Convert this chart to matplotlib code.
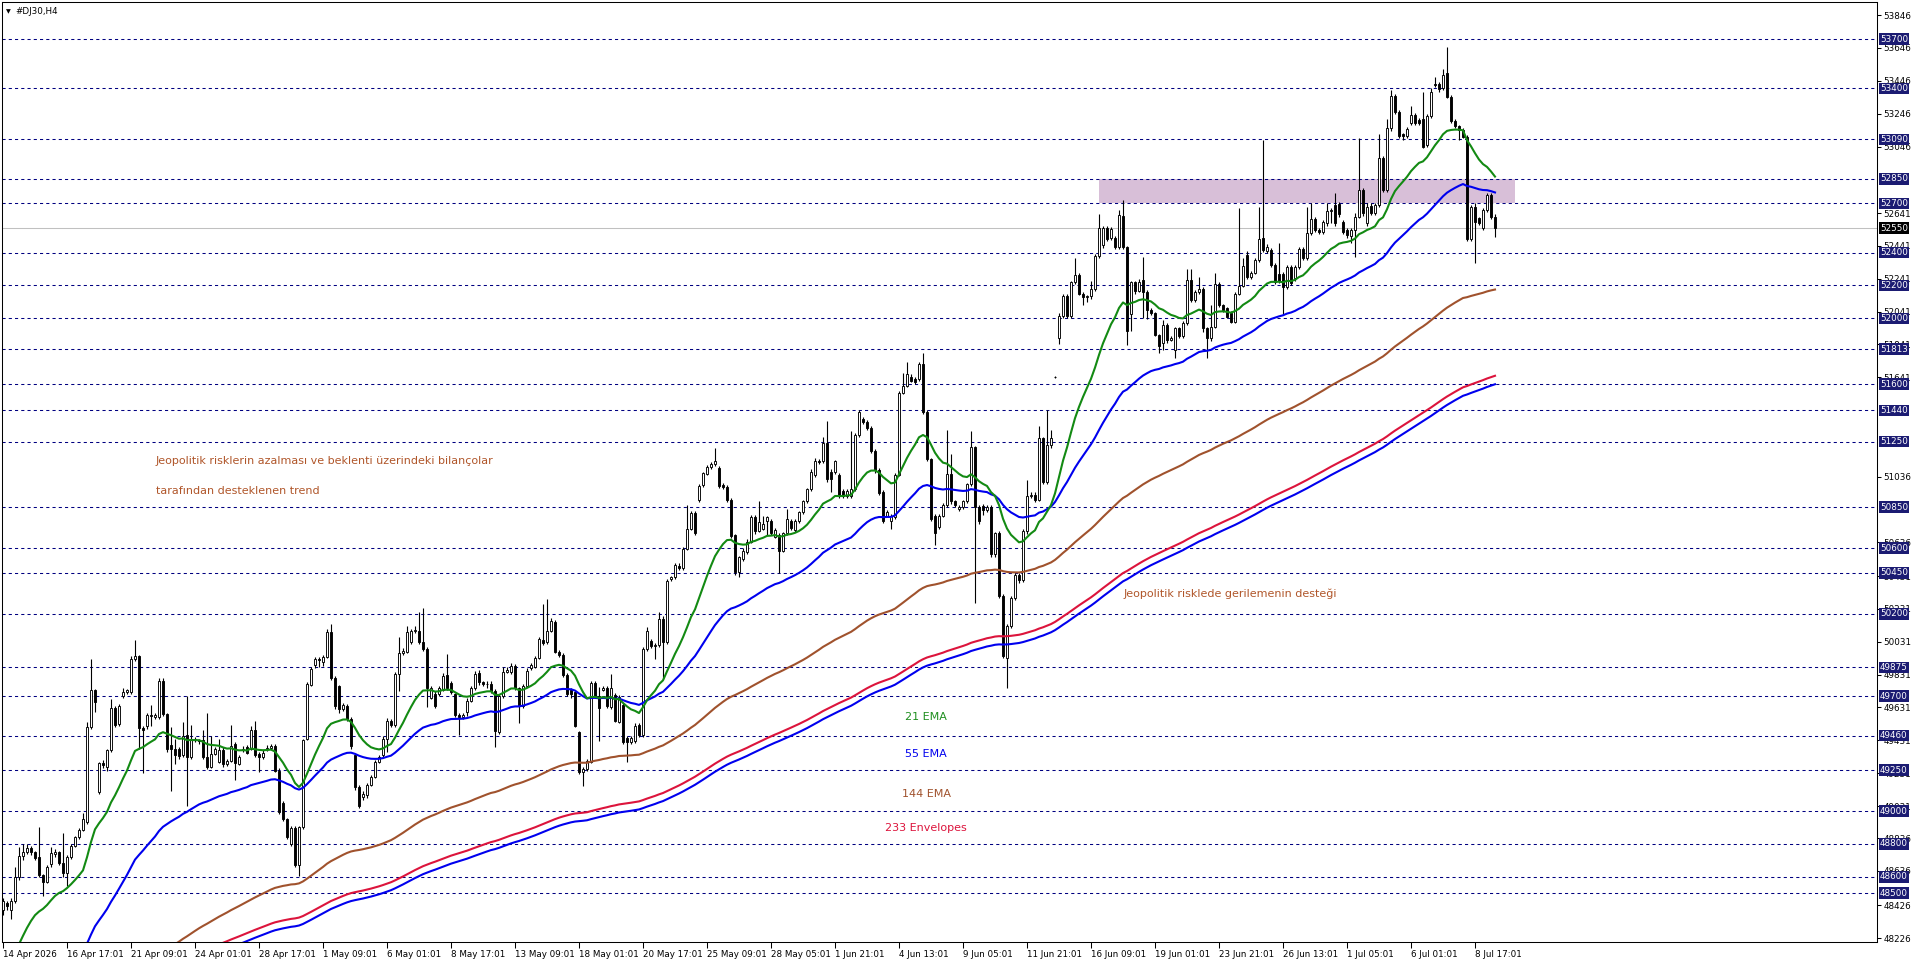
import numpy as np
import matplotlib
matplotlib.use("Agg")
import matplotlib.pyplot as plt
from matplotlib.patches import Rectangle
from matplotlib.transforms import blended_transform_factory

SYMBOL = "#DJ30,H4"

# H4 candles, bar 0 = 14 Apr 2026
OPEN = [
    48400, 48440, 48400, 48450, 48597, 48729, 48750, 48774, 48750, 48723,
    48611, 48571, 48678, 48739, 48750, 48683, 48622, 48719, 48786, 48841,
    48887, 48932, 49511, 49735, 49115, 49294, 49267, 49369, 49627, 49531,
    49700, 49728, 49724, 49927, 49943, 49505, 49521, 49586, 49572, 49572,
    49795, 49592, 49400, 49375, 49375, 49339, 49464, 49328, 49436, 49430,
    49430, 49328, 49267, 49349, 49298, 49373, 49288, 49308, 49410, 49288,
    49373, 49389, 49379, 49495, 49349, 49328, 49375, 49383, 49399, 49247,
    49050, 48953, 48800, 48896, 48672, 48902, 49440, 49769, 49887, 49927,
    49907, 49938, 50090, 49810, 49760, 49623, 49637, 49562, 49339, 49146,
    49085, 49095, 49160, 49207, 49298, 49340, 49440, 49550, 49524, 49835,
    49961, 49967, 50032, 50099, 50099, 50028, 49987, 49686, 49713, 49713,
    49739, 49829, 49778, 49713, 49585, 49575, 49601, 49672, 49747, 49841,
    49784, 49774, 49774, 49733, 49483, 49699, 49849, 49845, 49885, 49747,
    49642, 49764, 49869, 49875, 49930, 50044, 50032, 50099, 50153, 49971,
    49950, 49829, 49739, 49727, 49479, 49236, 49256, 49297, 49778, 49700,
    49739, 49747, 49632, 49707, 49544, 49646, 49443, 49422, 49429, 49524,
    49463, 49987, 50038, 50007, 50011, 50170, 50028, 50413, 50424, 50495,
    50478, 50596, 50718, 50813, 50891, 50986, 51053, 51094, 51114, 51087,
    50986, 50972, 50895, 50681, 50454, 50535, 50576, 50641, 50789, 50708,
    50720, 50767, 50767, 50671, 50682, 50585, 50692, 50767, 50714, 50767,
    50820, 50885, 50959, 51045, 51134, 51130, 51241, 51066, 51062, 51049,
    50949, 50917, 50917, 50959, 51290, 51388, 51367, 51333, 51194, 51077,
    50942, 50799, 50767, 50788, 51049, 51547, 51589, 51643, 51632, 51632,
    51724, 51429, 51141, 50799, 50729, 50799, 50863, 51055, 50885, 50842,
    50853, 50885, 50991, 51216, 50853, 50857, 50831, 50853, 50564, 50692,
    50308, 49934, 50126, 50297, 50436, 50404, 50703, 50917, 50927, 50895,
    51269, 51002, 51226, 51643, 51882, 52017, 52138, 52017, 52220, 52262,
    52151, 52130, 52134, 52177, 52380, 52444, 52551, 52491, 52491, 52433,
    52625, 52433, 52027, 52220, 52169, 52233, 52162, 52051, 52030, 51898,
    51849, 51959, 51868, 51807, 51939, 51892, 51970, 52233, 52112, 52162,
    52176, 51939, 51878, 51949, 52209, 52081, 52061, 52034, 51980, 52148,
    52197, 52385, 52250, 52278, 52355, 52487, 52412, 52416, 52325, 52270,
    52270, 52193, 52310, 52243, 52310, 52422, 52365, 52517, 52603, 52538,
    52527, 52578, 52655, 52690, 52696, 52588, 52538, 52501, 52538, 52619,
    52781, 52578, 52684, 52643, 52690, 52974, 52781, 53156, 53353, 53258,
    53122, 53110, 53187, 53238, 53207, 53211, 53055, 53232, 53426, 53426,
    53400, 53491, 53349, 53203, 53171, 53146, 53106, 52481, 52676, 52609,
    52548, 52659, 52751, 52615,
]
HIGH = [
    48470, 48450, 48470, 48660, 48780, 48800, 48800, 48790, 48760, 48906,
    48620, 48670, 48780, 48770, 48760, 48867, 48730, 48800, 48850, 48900,
    48990, 49540, 49927, 49745, 49300, 49310, 49380, 49684, 49640, 49650,
    49750, 49745, 49945, 50043, 49950, 49520, 49600, 49643, 49600, 49810,
    49810, 49600, 49511, 49440, 49390, 49540, 49700, 49525, 49450, 49440,
    49491, 49598, 49460, 49390, 49440, 49390, 49320, 49525, 49420, 49340,
    49395, 49400, 49517, 49546, 49360, 49370, 49400, 49410, 49410, 49260,
    49060, 48960, 48910, 48910, 48910, 49440, 49785, 49880, 49940, 49940,
    49950, 50106, 50141, 49820, 49770, 49660, 49650, 49570, 49350, 49160,
    49120, 49170, 49220, 49310, 49340, 49460, 49565, 49560, 49845, 50058,
    49990, 50129, 50110, 50129, 50214, 50235, 50000, 49760, 49730, 49760,
    49840, 49957, 49790, 49720, 49600, 49600, 49690, 49760, 49850, 49860,
    49795, 49790, 49790, 49745, 49710, 49880, 49880, 49900, 49895, 49755,
    49775, 49870, 49900, 49945, 50060, 50261, 50292, 50175, 50165, 49980,
    49960, 49840, 49750, 49740, 49490, 49270, 49320, 49790, 49790, 49755,
    49760, 49760, 49835, 49720, 49705, 49660, 49455, 49455, 49535, 49535,
    50000, 50120, 50050, 50025, 50214, 50185, 50415, 50434, 50510, 50510,
    50610, 50864, 50830, 50825, 50990, 51065, 51105, 51125, 51209, 51100,
    51000, 50985, 50905, 50690, 50555, 50600, 50655, 50800, 50800, 50890,
    50799, 50799, 50780, 50725, 50695, 50700, 50842, 50780, 50780, 50830,
    50895, 50970, 51080, 51150, 51145, 51275, 51376, 51080, 51140, 51060,
    50960, 50960, 51312, 51300, 51440, 51400, 51380, 51345, 51205, 51090,
    50955, 50835, 50810, 51060, 51560, 51668, 51733, 51660, 51645, 51735,
    51792, 51440, 51150, 50810, 50810, 50875, 51318, 51177, 50895, 50865,
    50895, 51000, 51312, 51225, 50865, 50870, 50865, 50865, 50700, 50703,
    50320, 50140, 50308, 50450, 50450, 50715, 51013, 50940, 50940, 51344,
    51280, 51440, 51322, 51650, 52030, 52150, 52150, 52230, 52369, 52275,
    52160, 52145, 52230, 52392, 52636, 52560, 52560, 52555, 52500, 52657,
    52721, 52440, 52230, 52230, 52240, 52375, 52170, 52060, 52040, 51905,
    51990, 51970, 51895, 51950, 51950, 51985, 52298, 52298, 52175, 52254,
    52190, 51950, 52081, 52274, 52220, 52090, 52070, 52045, 52160, 52670,
    52365, 52410, 52290, 52370, 52680, 53085, 52450, 52430, 52335, 52456,
    52285, 52325, 52325, 52325, 52435, 52435, 52680, 52700, 52615, 52550,
    52600, 52700, 52670, 52761, 52710, 52600, 52550, 52550, 52640, 53096,
    52795, 52700, 52700, 52700, 53122, 52990, 53211, 53390, 53365, 53270,
    53130, 53165, 53292, 53250, 53220, 53380, 53245, 53400, 53471, 53440,
    53516, 53649, 53360, 53215, 53180, 53160, 53115, 52690, 52700, 52620,
    52670, 52761, 52765, 52635,
]
LOW = [
    48370, 48400, 48343, 48440, 48580, 48700, 48740, 48730, 48700, 48600,
    48481, 48560, 48660, 48720, 48670, 48600, 48542, 48710, 48780, 48830,
    48880, 48920, 49500, 49602, 49105, 49260, 49247, 49360, 49510, 49520,
    49690, 49715, 49715, 49915, 49379, 49233, 49500, 49521, 49560, 49560,
    49580, 49360, 49125, 49288, 49320, 49330, 49034, 49320, 49420, 49410,
    49320, 49255, 49260, 49340, 49290, 49270, 49275, 49300, 49190, 49280,
    49360, 49345, 49370, 49330, 49240, 49320, 49365, 49375, 49240, 48980,
    48940, 48830, 48790, 48660, 48603, 48890, 49430, 49760, 49870, 49880,
    49885, 49930, 49800, 49620, 49600, 49610, 49550, 49380, 49130, 49020,
    49070, 49080, 49150, 49200, 49290, 49330, 49358, 49515, 49515, 49733,
    49950, 49960, 50020, 50085, 50015, 49975, 49632, 49680, 49630, 49700,
    49730, 49735, 49710, 49575, 49463, 49560, 49580, 49665, 49740, 49770,
    49760, 49750, 49720, 49388, 49470, 49690, 49840, 49835, 49735, 49536,
    49630, 49755, 49860, 49870, 49925, 50010, 50020, 50090, 49960, 49940,
    49815, 49700, 49690, 49510, 49225, 49150, 49245, 49290, 49690, 49429,
    49730, 49625, 49620, 49540, 49535, 49410, 49297, 49410, 49415, 49450,
    49450, 49975, 49995, 49926, 50000, 49804, 50020, 50400, 50415, 50465,
    50470, 50590, 50710, 50680, 50880, 50975, 51045, 51085, 51100, 50970,
    50960, 50880, 50660, 50440, 50425, 50525, 50565, 50630, 50690, 50700,
    50710, 50682, 50680, 50660, 50447, 50575, 50680, 50710, 50700, 50755,
    50810, 50875, 50950, 51035, 51115, 51120, 51005, 50940, 51050, 50905,
    50905, 50905, 50905, 50950, 51280, 51355, 51320, 51180, 51060, 50925,
    50755, 50790, 50720, 50780, 51040, 51540, 51580, 51610, 51600, 51620,
    51420, 51130, 50765, 50622, 50715, 50790, 50850, 50870, 50850, 50830,
    50840, 50875, 50980, 50265, 50750, 50800, 50820, 50550, 50550, 50295,
    49930, 49752, 50115, 50285, 50390, 50395, 50690, 50905, 50880, 50885,
    50990, 50990, 51210, 51636, 51846, 52005, 52005, 52005, 52210, 52140,
    52081, 52100, 52120, 52165, 52370, 52430, 52470, 52480, 52420, 52420,
    52420, 51835, 51920, 52150, 52160, 52000, 51994, 52020, 51890, 51787,
    51807, 51850, 51860, 51756, 51880, 51880, 51960, 52100, 52100, 52150,
    51919, 51756, 51865, 51940, 52070, 52040, 52000, 51970, 51970, 52140,
    52190, 52240, 52240, 52270, 52345, 52405, 52400, 52310, 52210, 52215,
    52020, 52180, 52200, 52230, 52300, 52355, 52355, 52505, 52525, 52515,
    52515, 52565, 52578, 52565, 52620, 52515, 52490, 52456, 52375, 52610,
    52625, 52565, 52630, 52630, 52680, 52770, 52770, 53140, 53245, 53100,
    53085, 53100, 53175, 53175, 53175, 53035, 53045, 53220, 53410, 53380,
    53390, 53340, 53190, 53160, 53085, 53095, 52470, 52470, 52335, 52570,
    52538, 52650, 52605, 52493,
]
CLOSE = [
    48450, 48420, 48450, 48597, 48729, 48750, 48774, 48750, 48717, 48611,
    48571, 48658, 48745, 48750, 48683, 48622, 48719, 48786, 48841, 48887,
    48949, 49515, 49735, 49663, 49294, 49280, 49369, 49627, 49525, 49639,
    49728, 49735, 49927, 49943, 49505, 49491, 49582, 49578, 49582, 49795,
    49592, 49375, 49375, 49343, 49334, 49460, 49328, 49440, 49430, 49424,
    49328, 49267, 49349, 49379, 49369, 49288, 49308, 49399, 49292, 49328,
    49379, 49355, 49495, 49339, 49328, 49353, 49383, 49399, 49247, 48993,
    48953, 48841, 48896, 48672, 48902, 49430, 49775, 49867, 49927, 49917,
    49938, 50090, 49810, 49640, 49623, 49643, 49562, 49395, 49146, 49034,
    49105, 49160, 49207, 49298, 49328, 49440, 49550, 49524, 49835, 49961,
    49973, 50088, 50099, 50105, 50028, 49987, 49747, 49747, 49642, 49747,
    49825, 49747, 49723, 49585, 49575, 49585, 49672, 49747, 49835, 49784,
    49774, 49774, 49733, 49489, 49699, 49849, 49861, 49885, 49747, 49642,
    49764, 49855, 49889, 49930, 50048, 50024, 50099, 50160, 49971, 49950,
    49829, 49713, 49713, 49520, 49236, 49256, 49307, 49778, 49700, 49626,
    49747, 49638, 49747, 49550, 49693, 49422, 49422, 49443, 49520, 49463,
    49987, 50099, 50007, 50011, 50170, 50028, 50403, 50424, 50499, 50478,
    50596, 50718, 50813, 50692, 50982, 51057, 51094, 51114, 51134, 50982,
    50972, 50891, 50673, 50454, 50545, 50586, 50641, 50789, 50708, 50760,
    50745, 50793, 50692, 50714, 50585, 50692, 50778, 50724, 50767, 50820,
    50885, 50959, 51066, 51134, 51126, 51241, 51019, 51019, 51130, 50917,
    50917, 50949, 50959, 51290, 51429, 51367, 51333, 51194, 51077, 50938,
    50767, 50820, 50799, 51049, 51547, 51589, 51664, 51621, 51611, 51724,
    51429, 51141, 50778, 50692, 50799, 50863, 51055, 50885, 50863, 50853,
    50885, 50991, 51216, 50853, 50767, 50831, 50853, 50564, 50692, 50308,
    49945, 50126, 50297, 50436, 50404, 50703, 50917, 50927, 50895, 51269,
    51002, 51226, 51269, 51643, 52017, 52138, 52017, 52220, 52262, 52151,
    52130, 52134, 52177, 52380, 52551, 52551, 52486, 52544, 52433, 52630,
    52433, 51920, 52220, 52169, 52224, 52162, 52051, 52030, 51898, 51832,
    51959, 51868, 51878, 51939, 51892, 51970, 52233, 52112, 52162, 52176,
    51939, 51878, 51949, 52209, 52081, 52051, 52010, 51980, 52148, 52197,
    52318, 52250, 52278, 52355, 52481, 52416, 52432, 52325, 52223, 52229,
    52193, 52310, 52213, 52310, 52422, 52365, 52517, 52603, 52538, 52527,
    52588, 52655, 52659, 52578, 52635, 52527, 52507, 52538, 52619, 52781,
    52639, 52680, 52643, 52690, 52974, 52781, 53156, 53353, 53258, 53110,
    53110, 53150, 53238, 53187, 53187, 53045, 53232, 53380, 53420, 53394,
    53481, 53349, 53203, 53171, 53146, 53106, 52481, 52676, 52587, 52582,
    52659, 52751, 52619, 52550,
]

# time axis: one label every 16 bars
TIME_LABELS = ["14 Apr 2026", "16 Apr 17:01", "21 Apr 09:01", "24 Apr 01:01",
               "28 Apr 17:01", "1 May 09:01", "6 May 01:01", "8 May 17:01",
               "13 May 09:01", "18 May 01:01", "20 May 17:01", "25 May 09:01",
               "28 May 05:01", "1 Jun 21:01", "4 Jun 13:01", "9 Jun 05:01",
               "11 Jun 21:01", "16 Jun 09:01", "19 Jun 01:01", "23 Jun 21:01",
               "26 Jun 13:01", "1 Jul 05:01", "6 Jul 01:01", "8 Jul 17:01"]
LABEL_STEP = 16

# horizontal levels drawn on the chart (boxed on the price scale)
LEVELS = [53700, 53400, 53090, 52850, 52700, 52400, 52200, 52000, 51813,
          51600, 51440, 51250, 50850, 50600, 50450, 50200, 49875, 49700,
          49460, 49250, 49000, 48800, 48600, 48500]
SCALE_TICKS = [53846, 53646, 53446, 53246, 53046, 52641, 52441, 52241, 52041,
               51841, 51641, 51036, 50636, 50431, 50231, 50031, 49831, 49631,
               49431, 49231, 49031, 48836, 48636, 48426, 48226]
LAST_PRICE = 52550

# resistance zone (bars / prices)
ZONE_BARS = (274, 378)
ZONE_PRICES = (52700, 52850)

# moving averages: period -> (bar, value read on the chart) used to pin the start
EMA_PINS = {21: (10, 48405), 55: (30, 48570), 144: (80, 48660)}
ENV_PERIOD = 233
ENV_PIN = (80, 48402)
ENV_DEV = 0.0005

NOTES = [
    (38.2, 51132, "Jeopolitik risklerin azalması ve beklenti üzerindeki bilançolar"),
    (38.2, 50949, "tarafından desteklenen trend"),
    (280.2, 50322, "Jeopolitik risklede gerilemenin desteği"),
]
LEGEND = [("21 EMA", 49571, "#1f8f1f"), ("55 EMA", 49348, "#0000ee"),
          ("144 EMA", 49103, "#a0522d"), ("233 Envelopes", 48895, "#dc143c")]
LEGEND_X = 230.8

NAVY = "#1b1b72"
W, H = 1916, 963


def ema(vals, n, pin):
    a = 2.0 / (n + 1)
    e, raw = 0.0, []
    for v in vals:
        e += a * (v - e)
        raw.append(e)
    raw = np.array(raw)
    decay = (1 - a) ** (np.arange(len(vals)) + 1)
    k, val = pin
    seed = (val - raw[k]) / decay[k]
    return raw + seed * decay


o, h, l, c = (np.array(v, dtype=float) for v in (OPEN, HIGH, LOW, CLOSE))
x = np.arange(len(c))

fig = plt.figure(figsize=(W / 100, H / 100), dpi=100)
ax = fig.add_axes([2 / W, 21 / H, 1875 / W, 940 / H])
ax.set_xlim(-0.25, 468.5)
ax.set_ylim(48203, 53926)

ax.add_patch(Rectangle((ZONE_BARS[0], ZONE_PRICES[0]), ZONE_BARS[1] - ZONE_BARS[0],
                       ZONE_PRICES[1] - ZONE_PRICES[0], facecolor="#d8bfd8",
                       edgecolor="none", zorder=1))
for lv in LEVELS:
    ax.axhline(lv, color="#000080", linewidth=0.75, linestyle=(0, (3, 3)), zorder=2)
ax.axhline(LAST_PRICE, color="#c0c0c0", linewidth=0.75, zorder=1.5)

# candles
ax.vlines(x, l, h, color="black", linewidth=0.8, zorder=3)
up = c >= o
ax.bar(x[up], (c - o)[up], bottom=o[up], width=0.6, color="white",
       edgecolor="black", linewidth=0.65, zorder=4)
ax.bar(x[~up], (o - c)[~up], bottom=c[~up], width=0.6, color="black",
       edgecolor="black", linewidth=0.65, zorder=4)

# indicators
mid = ema(c, ENV_PERIOD, ENV_PIN)
ax.plot(x, mid * (1 + ENV_DEV), color="#dc143c", linewidth=1.5, zorder=5)
ax.plot(x, mid * (1 - ENV_DEV), color="#0000ee", linewidth=1.5, zorder=5)
ax.plot(x, ema(c, 144, EMA_PINS[144]), color="#a0522d", linewidth=1.5, zorder=5)
ax.plot(x, ema(c, 55, EMA_PINS[55]), color="#0000ee", linewidth=1.5, zorder=5)
ax.plot(x, ema(c, 21, EMA_PINS[21]), color="#138a13", linewidth=1.5, zorder=5)

for bx, py, txt in NOTES:
    ax.text(bx, py, txt, color="#b0562a", fontsize=8.0, ha="left", va="center", zorder=6)
for txt, py, col in LEGEND:
    ax.text(LEGEND_X, py, txt, color=col, fontsize=8.0, ha="center", va="center", zorder=6)

# frame and scales
for s in ax.spines.values():
    s.set_linewidth(0.75)
    s.set_color("black")
ax.yaxis.tick_right()
ax.set_yticks(SCALE_TICKS)
ax.set_yticklabels([str(v) for v in SCALE_TICKS])
ax.tick_params(axis="y", direction="out", length=3, width=0.75, pad=1.5,
               labelsize=6.3, colors="black")
ticks = [i * LABEL_STEP for i in range(len(TIME_LABELS))]
ax.set_xticks(ticks)
ax.set_xticklabels(TIME_LABELS, ha="left")
ax.tick_params(axis="x", direction="out", length=4, width=0.75, pad=1.5,
               labelsize=6.3, colors="black")

tr = blended_transform_factory(fig.transFigure, ax.transData)
for lv in LEVELS:
    ax.text(1880 / W, lv, str(lv), transform=tr, color="white", fontsize=6.3,
            ha="left", va="center", clip_on=False, zorder=7,
            bbox=dict(boxstyle="square,pad=0.15", fc=NAVY, ec="none"))
ax.text(1880 / W, LAST_PRICE, str(LAST_PRICE), transform=tr, color="white",
        fontsize=6.3, ha="left", va="center", clip_on=False, zorder=7,
        bbox=dict(boxstyle="square,pad=0.15", fc="black", ec="none"))

fig.text(6 / W, 1 - 12 / H, "▼", fontsize=4.5, va="center", ha="left")
fig.text(15 / W, 1 - 12 / H, SYMBOL, fontsize=6.3, va="center", ha="left")

fig.savefig("out.png", dpi=100)
